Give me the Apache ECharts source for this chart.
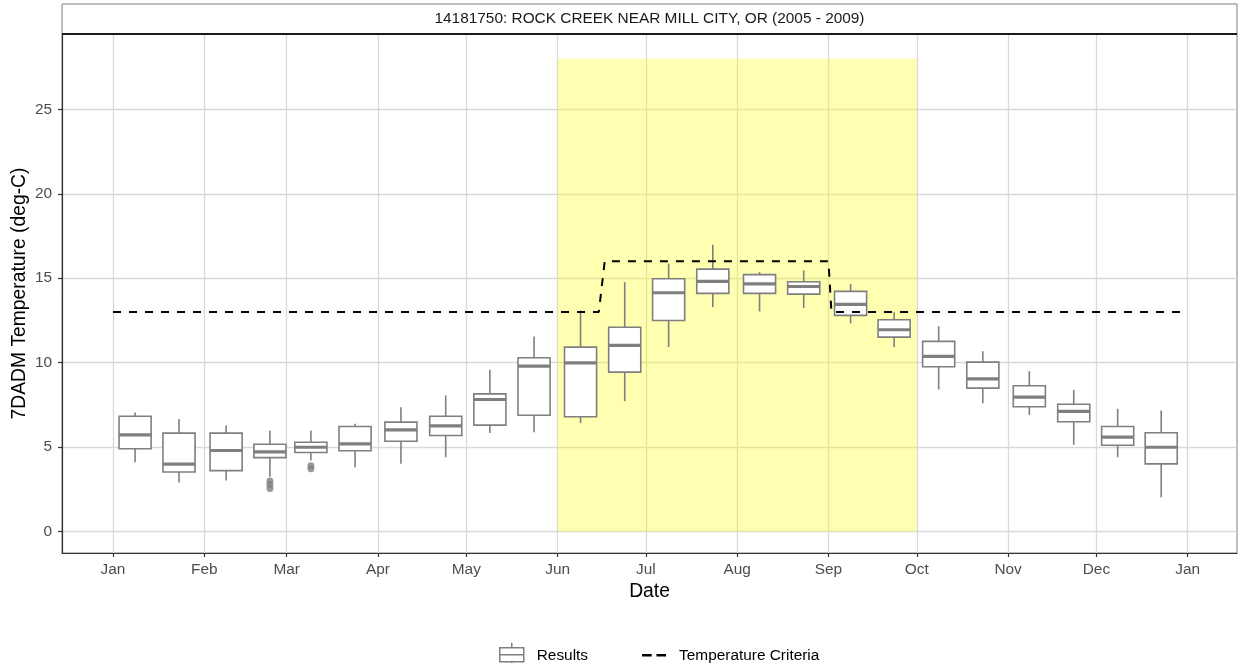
<!DOCTYPE html>
<html>
<head>
<meta charset="utf-8">
<script src="https://cdn.jsdelivr.net/npm/echarts@6/dist/echarts.min.js"></script>
<style>html,body{margin:0;padding:0;background:#fff}#c{width:1238px;height:663px}</style>
</head>
<body>
<div id="c"></div>
<script>
// ---------------- data ----------------
const chartTitle = '14181750: ROCK CREEK NEAR MILL CITY, OR (2005 - 2009)';
const boxDates = ['2021-01-08T12:00','2021-01-23T10:00','2021-02-08T10:00','2021-02-23T07:00','2021-03-09T05:00','2021-03-24T05:00',
  '2021-04-08T19:00','2021-04-24T00:00','2021-05-09T00:00','2021-05-24T00:00','2021-06-08T19:00','2021-06-23T19:00',
  '2021-07-08T17:00','2021-07-23T17:00','2021-08-08T14:00','2021-08-23T14:00','2021-09-08T12:00','2021-09-23T07:00',
  '2021-10-08T10:00','2021-10-23T10:00','2021-11-08T05:00','2021-11-23T07:00','2021-12-08T05:00','2021-12-23T00:00'];
const whiskerLow  = [4.11,2.90,3.02,3.25,4.20,3.81,4.01,4.40,5.83,5.88,6.42,7.72,10.92,13.29,13.03,13.23,12.32,10.92,8.41,7.60,6.91,5.14,4.40,2.03];
const q1          = [4.90,3.53,3.61,4.38,4.68,4.78,5.35,5.69,6.30,6.89,6.80,9.44,12.50,14.10,14.10,14.06,12.80,11.51,9.76,8.49,7.39,6.50,5.11,4.01];
const median      = [5.73,3.99,4.80,4.72,4.99,5.19,6.02,6.26,7.82,9.79,9.99,11.02,14.14,14.81,14.67,14.51,13.45,11.95,10.37,9.04,7.96,7.11,5.59,4.99];
const q3          = [6.83,5.83,5.83,5.17,5.29,6.22,6.48,6.83,8.15,10.29,10.92,12.10,14.97,15.54,15.21,14.79,14.22,12.54,11.26,10.03,8.63,7.54,6.22,5.85];
const whiskerHigh = [7.05,6.67,6.28,5.98,5.98,6.38,7.36,8.06,9.58,11.55,13.09,14.77,15.86,16.98,15.36,15.46,14.67,12.99,12.16,10.68,9.50,8.39,7.27,7.17];
const outlierBox   = [3,3,3,4,4];
const outlierValue = [3.00,2.78,2.55,3.90,3.72];
const critDates  = ['2021-01-01','2021-06-15','2021-06-17','2021-09-01','2021-09-02','2021-12-30'];
const critValues = [13,13,16,16,13,13];
const seasonStart = '2021-06-01', seasonEnd = '2021-10-01', seasonLow = 0, seasonHigh = 28;
const monthTickDates = ['2021-01-01','2021-02-01','2021-03-01','2021-04-01','2021-05-01','2021-06-01','2021-07-01',
  '2021-08-01','2021-09-01','2021-10-01','2021-11-01','2021-12-01','2022-01-01'];
const monthTickLabels = ['Jan','Feb','Mar','Apr','May','Jun','Jul','Aug','Sep','Oct','Nov','Dec','Jan'];
const yTicks = [0,5,10,15,20,25];

// ---------------- helpers ----------------
const DAY = 86400000;
function ms(s){ return new Date((s.length === 10 ? s + 'T00:00' : s) + ':00Z').getTime(); }
const x0 = ms('2021-01-01');
const monthTickMs = monthTickDates.map(ms);
const labelOf = {};
monthTickMs.forEach((v,i)=>{ labelOf[v] = monthTickLabels[i]; });

const boxData = boxDates.map((d,i)=>[ms(d), whiskerLow[i], q1[i], median[i], q3[i], whiskerHigh[i]]);
const outlierData = outlierBox.map((b,i)=>[ms(boxDates[b]), outlierValue[i]]);
const critData = critDates.map((d,i)=>[ms(d), critValues[i]]);

const FONT = "'Liberation Sans', Arial, Helvetica, sans-serif";
const GRAY = '#7f7f7f';
const BOX_DAYS = 10.9;
const SMALL = 15.4, BIG = 19.3;

const chart = echarts.init(document.getElementById('c'), null, {renderer:'canvas'});
chart.setOption({
  animation: false,
  backgroundColor: '#ffffff',
  grid: {left: 62, right: 1, top: 34, bottom: 110, show: true, borderColor: GRAY, borderWidth: 1,
    backgroundColor: 'transparent', containLabel: false, outerBoundsMode: 'none'},
  xAxis: {
    type: 'value',
    min: x0 - 17.32*DAY,
    max: x0 + 381.74*DAY,
    name: 'Date', nameLocation: 'middle', nameGap: 28,
    nameTextStyle: {fontFamily: FONT, fontSize: BIG, color: '#000'},
    axisLine: {show: true, onZero: false, lineStyle: {color: '#333', width: 1.2}},
    axisTick: {show: true, length: 4, customValues: monthTickMs, lineStyle: {color: '#333', width: 1.2}},
    axisLabel: {customValues: monthTickMs, formatter: v => labelOf[v] || '', margin: 9,
      fontFamily: FONT, fontSize: SMALL, color: '#4d4d4d'},
    splitLine: {show: true, lineStyle: {color: '#d9d9d9', width: 1.3}}
  },
  yAxis: {
    type: 'value',
    min: -1.27, max: 29.46,
    name: '7DADM Temperature (deg-C)', nameLocation: 'middle', nameGap: 33, nameMoveOverlap: false,
    nameTextStyle: {fontFamily: FONT, fontSize: BIG, color: '#000'},
    axisLine: {show: true, onZero: false, lineStyle: {color: '#333', width: 1.2}},
    axisTick: {show: true, length: 4, customValues: yTicks, lineStyle: {color: '#333', width: 1.2}},
    axisLabel: {customValues: yTicks, margin: 10, fontFamily: FONT, fontSize: SMALL, color: '#4d4d4d'},
    splitLine: {show: true, lineStyle: {color: '#d9d9d9', width: 1.3}}
  },
  legend: {
    left: 494, top: 637,
    itemWidth: 24, itemHeight: 25, itemGap: 54,
    textStyle: {fontFamily: FONT, fontSize: SMALL, color: '#000', padding: [0,0,0,8]},
    selectedMode: false,
    data: [
      {name: 'Results', icon: 'path://M0,5 L24,5 L24,19 L0,19 Z M0,12 L24,12 M12,0 L12,5 M12,19 L12,25',
        itemStyle: {color: '#fff', borderColor: GRAY, borderWidth: 1.5}},
      {name: 'Temperature Criteria', icon: 'path://M2,0 L10,0 L10,2 L2,2 Z M14,0 L22,0 L22,2 L14,2 Z',
        itemStyle: {color: '#000', borderWidth: 0}}
    ]
  },
  graphic: [
    {type: 'rect', shape: {x: 62, y: 4, width: 1175, height: 30}, style: {fill: '#fff', stroke: GRAY, lineWidth: 1}, z: 10},
    {type: 'line', shape: {x1: 62, y1: 34, x2: 1237, y2: 34}, style: {stroke: '#1a1a1a', lineWidth: 2}, z: 11},
    {type: 'text', x: 649.5, y: 19, style: {text: chartTitle, fontFamily: FONT, fontSize: SMALL, fill: '#1a1a1a',
      textAlign: 'center', textVerticalAlign: 'middle'}, z: 12}
  ],
  series: [
    {
      name: 'season', type: 'line', data: [], z: 1, silent: true,
      markArea: {silent: true, itemStyle: {color: 'rgba(255,255,0,0.3)'},
        data: [[{xAxis: ms(seasonStart), yAxis: seasonLow}, {xAxis: ms(seasonEnd), yAxis: seasonHigh}]]}
    },
    {
      name: 'Results', type: 'custom', z: 3,
      encode: {x: 0, y: [1,2,3,4,5]},
      data: boxData,
      renderItem: function(params, api){
        const x = api.value(0);
        const cx = api.coord([x, api.value(3)])[0];
        const yLo = api.coord([x, api.value(1)])[1];
        const yA = api.coord([x, api.value(2)])[1];
        const yM = api.coord([x, api.value(3)])[1];
        const yB = api.coord([x, api.value(4)])[1];
        const yHi = api.coord([x, api.value(5)])[1];
        const half = api.size([BOX_DAYS*DAY, 0])[0] / 2;
        const st = {stroke: GRAY, lineWidth: 1.6};
        return {type: 'group', children: [
          {type: 'line', shape: {x1: cx, y1: yHi, x2: cx, y2: yB}, style: st},
          {type: 'line', shape: {x1: cx, y1: yA, x2: cx, y2: yLo}, style: st},
          {type: 'rect', shape: {x: cx - half, y: yB, width: 2*half, height: yA - yB}, style: {fill: '#fff', stroke: GRAY, lineWidth: 1.6}},
          {type: 'line', shape: {x1: cx - half, y1: yM, x2: cx + half, y2: yM}, style: {stroke: GRAY, lineWidth: 3.2}}
        ]};
      }
    },
    {
      name: 'Outliers', type: 'scatter', z: 3, data: outlierData, symbol: 'circle', symbolSize: 7,
      itemStyle: {color: GRAY}
    },
    {
      name: 'Temperature Criteria', type: 'line', z: 4, data: critData, symbol: 'none',
      lineStyle: {color: '#000', width: 2, type: [8, 8]}, itemStyle: {color: '#000'}
    }
  ]
});
</script>
</body>
</html>
